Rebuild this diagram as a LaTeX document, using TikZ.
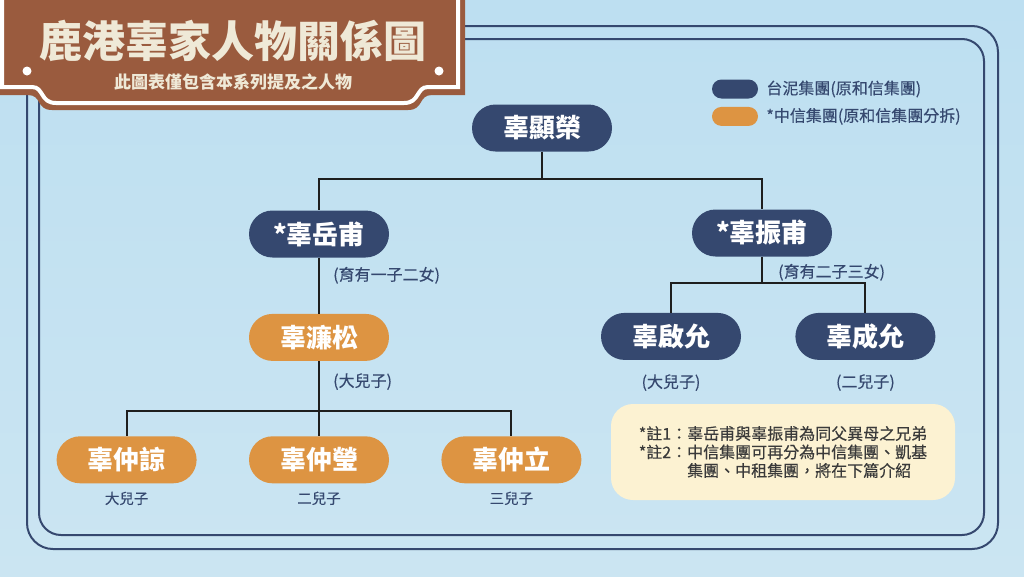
\documentclass[tikz,border=0pt]{standalone}
\usepackage{fontspec}
\setmainfont{Noto Sans CJK TC}
\newfontfamily\semibold[FakeBold=0.35]{Noto Sans CJK TC}
\usepackage{tikz}
\usetikzlibrary{positioning,calc}

\definecolor{skytop}{RGB}{189,223,241}
\definecolor{skybot}{RGB}{203,229,242}
\definecolor{navy}{RGB}{53,72,111}
\definecolor{amber}{RGB}{221,148,66}
\definecolor{signbrown}{RGB}{154,91,62}
\definecolor{signcream}{RGB}{239,233,215}
\definecolor{notecream}{RGB}{252,242,210}
\definecolor{notetext}{RGB}{58,58,58}
\definecolor{linkdark}{RGB}{30,30,30}

\newcommand{\pxfont}[1]{\fontsize{#1}{#1}\selectfont}

\tikzset{
  person/.style={rectangle, rounded corners=23.5pt, minimum width=140pt, minimum height=47pt,
    inner sep=0pt, text=white, font=\pxfont{26}\bfseries},
  taini/.style={person, fill=navy},
  zhongxin/.style={person, fill=amber},
  remark/.style={inner sep=0pt, text=navy, font=\semibold\pxfont{16}},
  link/.style={draw=linkdark, line width=2pt},
  frame/.style={draw=navy, line width=2pt},
  legendpill/.style={rectangle, rounded corners=9.5pt, minimum width=46pt, minimum height=19pt, inner sep=0pt},
}

\begin{document}
\begin{tikzpicture}[x=1pt, y=-1pt]
    % background and frame
    \useasboundingbox (0,0) rectangle (1024,576);
    \shade[top color=skytop, bottom color=skybot] (0,0) rectangle (1024,576);
    \draw[frame, rounded corners=26pt] (27,26) rectangle (998,549);
    \draw[frame, rounded corners=22pt] (39,39) rectangle (984,535);

    % title sign
    \fill[signbrown] (-5,-5) -- (-5,95) -- (28,95) .. controls (42,95) and (36,110) .. (52,110)
        -- (408,110) .. controls (424,110) and (418,95) .. (432,95) -- (465,95) -- (465,-5) -- cycle;
    \draw[white, line width=4pt] (2,-5) -- (2,87) -- (32,87) .. controls (44,87) and (40,103) .. (56,103)
        -- (404,103) .. controls (420,103) and (416,87) .. (428,87) -- (458,87) -- (458,-5);
    \fill[white] (27,71) circle (4.5) (439,71) circle (4.5);
    \node[text=signcream, font=\pxfont{43}\bfseries] (title) at (233,41) {鹿港辜家人物關係圖};
    \node[text=signcream, font=\pxfont{17}\bfseries] (subtitle) at (233,82) {此圖表僅包含本系列提及之人物};

    % legend
    \node[legendpill, fill=navy] (legnavy) at (735,89) {};
    \node[legendpill, fill=amber, below=8pt of legnavy] (legamber) {};
    \node[remark, right=8pt of legnavy] {台泥集團(原和信集團)};
    \node[remark, right=8pt of legamber] {*中信集團(原和信集團分拆)};

    % family tree
    \node[taini] (xianrong) at (542,128) {辜顯榮};
    \node[taini] (yuefu) at (319,234) {*辜岳甫};
    \node[taini] (zhenfu) at (762,233) {*辜振甫};
    \node[zhongxin, below=56pt of yuefu] (liansong) {辜濂松};
    \node[taini, below=56pt of zhenfu, xshift=-91pt] (qiyun) {辜啟允};
    \node[taini, right=54pt of qiyun] (chengyun) {辜成允};
    \node[zhongxin, below=75pt of liansong] (zhongying) {辜仲瑩};
    \node[zhongxin, left=52pt of zhongying] (zhongliang) {辜仲諒};
    \node[zhongxin, right=52pt of zhongying] (zhongli) {辜仲立};

    \node[remark, below right=9pt and 14pt of yuefu.south] {(育有一子二女)};
    \node[remark, below right=7pt and 16pt of zhenfu.south] {(育有二子三女)};
    \node[remark, below right=12pt and 14pt of liansong.south] {(大兒子)};
    \node[remark, below=14pt of qiyun] {(大兒子)};
    \node[remark, below=14pt of chengyun] {(二兒子)};
    \node[remark, font=\semibold\pxfont{14.5}, below=8pt of zhongliang] {大兒子};
    \node[remark, font=\semibold\pxfont{14.5}, below=8pt of zhongying] {二兒子};
    \node[remark, font=\semibold\pxfont{14.5}, below=8pt of zhongli] {三兒子};

    \coordinate (fork1) at ($(xianrong.south)+(0,27)$);
    \coordinate (fork2) at ($(zhenfu.south)+(0,26)$);
    \coordinate (fork3) at ($(liansong.south)+(0,50)$);
    \draw[link] (xianrong) -- (fork1) -| (yuefu);
    \draw[link] (fork1) -| (zhenfu);
    \draw[link] (yuefu) -- (liansong);
    \draw[link] (zhenfu) -- (fork2) -| (qiyun);
    \draw[link] (fork2) -| (chengyun);
    \draw[link] (liansong) -- (zhongying);
    \draw[link] (fork3) -| (zhongliang);
    \draw[link] (fork3) -| (zhongli);

    % notes
    \node[fill=notecream, rounded corners=22pt, minimum width=344pt, minimum height=96pt,
        text=notetext, font=\semibold\fontsize{16}{18.5}\selectfont, align=left] (notes) at (783,452)
        {*註1：辜岳甫與辜振甫為同父異母之兄弟\\
         *註2：中信集團可再分為中信集團、凱基\\
         \phantom{*註2：}集團、中租集團，將在下篇介紹};
\end{tikzpicture}
\end{document}
